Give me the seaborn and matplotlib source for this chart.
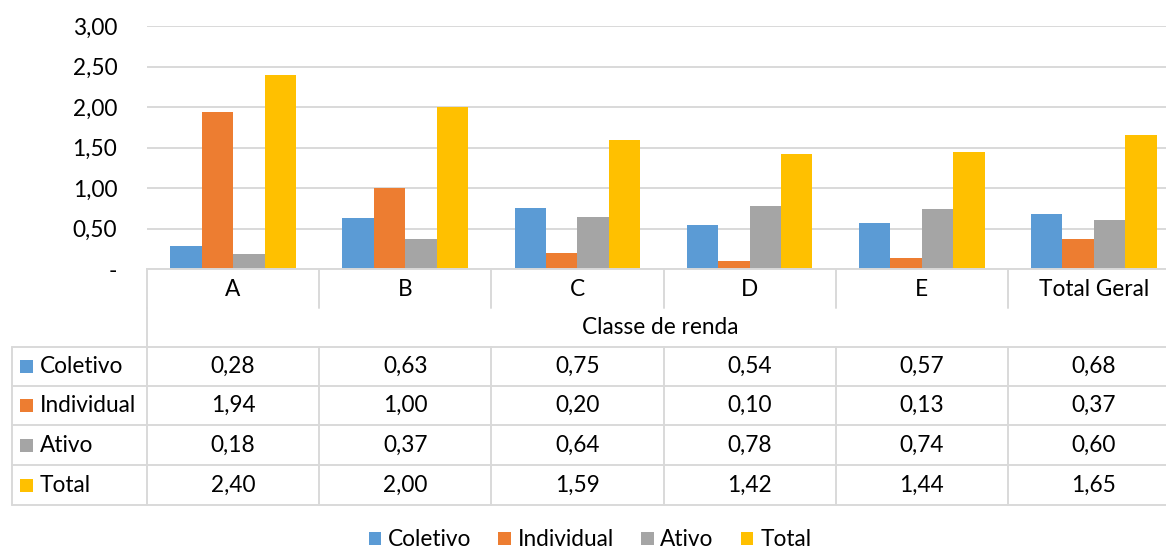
import matplotlib
matplotlib.use("Agg")
import matplotlib.pyplot as plt
import matplotlib.transforms as mtransforms
from matplotlib.patches import Patch, Rectangle
import pandas as pd
import seaborn as sns

categories = ["A", "B", "C", "D", "E", "Total Geral"]
series_names = ["Coletivo", "Individual", "Ativo", "Total"]
coletivo = [0.28, 0.63, 0.75, 0.54, 0.57, 0.68]
individual = [1.94, 1.00, 0.20, 0.10, 0.13, 0.37]
ativo = [0.18, 0.37, 0.64, 0.78, 0.74, 0.60]
total = [2.40, 2.00, 1.59, 1.42, 1.44, 1.65]
y_ticks = [0, 0.5, 1.0, 1.5, 2.0, 2.5, 3.0]
x_title = "Classe de renda"

colors = ["#5B9BD5", "#ED7D31", "#A5A5A5", "#FFC000"]
grid_c = "#D9D9D9"
txt_c = "#000000"
FS = 16.3

sns.set_theme(style="white")
plt.rcParams["font.family"] = ["Lato", "DejaVu Sans"]

W, H = 1166, 551
fig = plt.figure(figsize=(W / 100, H / 100), dpi=100)


def fx(px):
    return px / W


def fy(py):
    return 1 - py / H


# plot area in pixel coordinates
L, R, T, B = 147, 1180, 26, 269
ax = fig.add_axes([fx(L), fy(B), fx(R) - fx(L), fy(T) - fy(B)])

values = [coletivo, individual, ativo, total]
df = pd.DataFrame(
    [(c, s, v) for s, vals in zip(series_names, values) for c, v in zip(categories, vals)],
    columns=["classe", "serie", "valor"],
)
sns.barplot(
    data=df, x="classe", y="valor", hue="serie", order=categories,
    hue_order=series_names, palette=colors, width=0.73, linewidth=0,
    saturation=1, legend=False, ax=ax,
)

ax.set_xlim(-0.5, len(categories) - 0.5)
ax.set_ylim(0, 3.0)
ax.set_yticks(y_ticks)
ax.set_yticklabels(["-" if v == 0 else f"{v:.2f}".replace(".", ",") for v in y_ticks],
                   fontsize=FS, color=txt_c)
ax.tick_params(axis="y", length=0, pad=21.5)
ax.set_xticks([])
ax.set_xlabel("")
ax.set_ylabel("")
ax.yaxis.grid(True, color=grid_c, linewidth=1.4)
ax.set_axisbelow(True)
for side in ["top", "right", "left"]:
    ax.spines[side].set_visible(False)
ax.spines["bottom"].set_color(grid_c)
ax.spines["bottom"].set_linewidth(1.4)

# data table below the plot: x in data units, y in figure units
tr = mtransforms.blended_transform_factory(ax.transData, fig.transFigure)
n = len(categories)
x_left = -0.5
x_right = n - 0.5
lw = 1.4


def hline(y_px, x0, x1):
    ax.plot([x0, x1], [fy(y_px)] * 2, color=grid_c, lw=lw, transform=tr, clip_on=False)


def vline(x, y0_px, y1_px):
    ax.plot([x, x], [fy(y0_px), fy(y1_px)], color=grid_c, lw=lw, transform=tr, clip_on=False)


# category header row
cat_top, cat_bot = 269, 308
for k in range(n + 1):
    vline(x_left + k, cat_top, cat_bot)
for k, c in enumerate(categories):
    ax.text(k, fy((cat_top + cat_bot) / 2 + 1), c, transform=tr, ha="center", va="center",
            fontsize=FS, color=txt_c, clip_on=False)
vline(x_left, cat_bot, 347)
ax.text((x_left + x_right) / 2 - 0.02, fy(327), x_title, transform=tr, ha="center",
        va="center", fontsize=FS, color=txt_c, clip_on=False)

# value rows
row_edges = [347, 386, 425, 465, 505]
px_per_unit = (R - L) / n
x_table_left = x_left - (L - 12) / px_per_unit
for y in row_edges:
    hline(y, x_table_left, x_right)
for k in range(n + 1):
    vline(x_left + k, row_edges[0], row_edges[-1])
vline(x_table_left, row_edges[0], row_edges[-1])

for r, (name, vals, col) in enumerate(zip(series_names, values, colors)):
    yc = (row_edges[r] + row_edges[r + 1]) / 2
    sq = 13 / px_per_unit
    ax.add_patch(Rectangle((x_table_left + 8 / px_per_unit, fy(yc + 6.5)), sq,
                           fy(yc - 6.5) - fy(yc + 6.5),
                           transform=tr, facecolor=col, edgecolor="none", clip_on=False))
    ax.text(x_table_left + 28 / px_per_unit, fy(yc), name, transform=tr, ha="left",
            va="center", fontsize=FS, color=txt_c, clip_on=False)
    for k, v in enumerate(vals):
        ax.text(k, fy(yc), f"{v:.2f}".replace(".", ","), transform=tr, ha="center",
                va="center", fontsize=FS, color=txt_c, clip_on=False)

# legend
handles = [Patch(facecolor=c, edgecolor="none", label=s) for s, c in zip(series_names, colors)]
fig.legend(handles=handles, loc="center", bbox_to_anchor=(fx(590), fy(540)), ncol=4,
           frameon=False, fontsize=FS, handlelength=0.55, handleheight=0.55,
           handletextpad=0.3, columnspacing=1.2, labelcolor=txt_c,
           borderpad=0.1)

fig.savefig("out.png", dpi=100)
